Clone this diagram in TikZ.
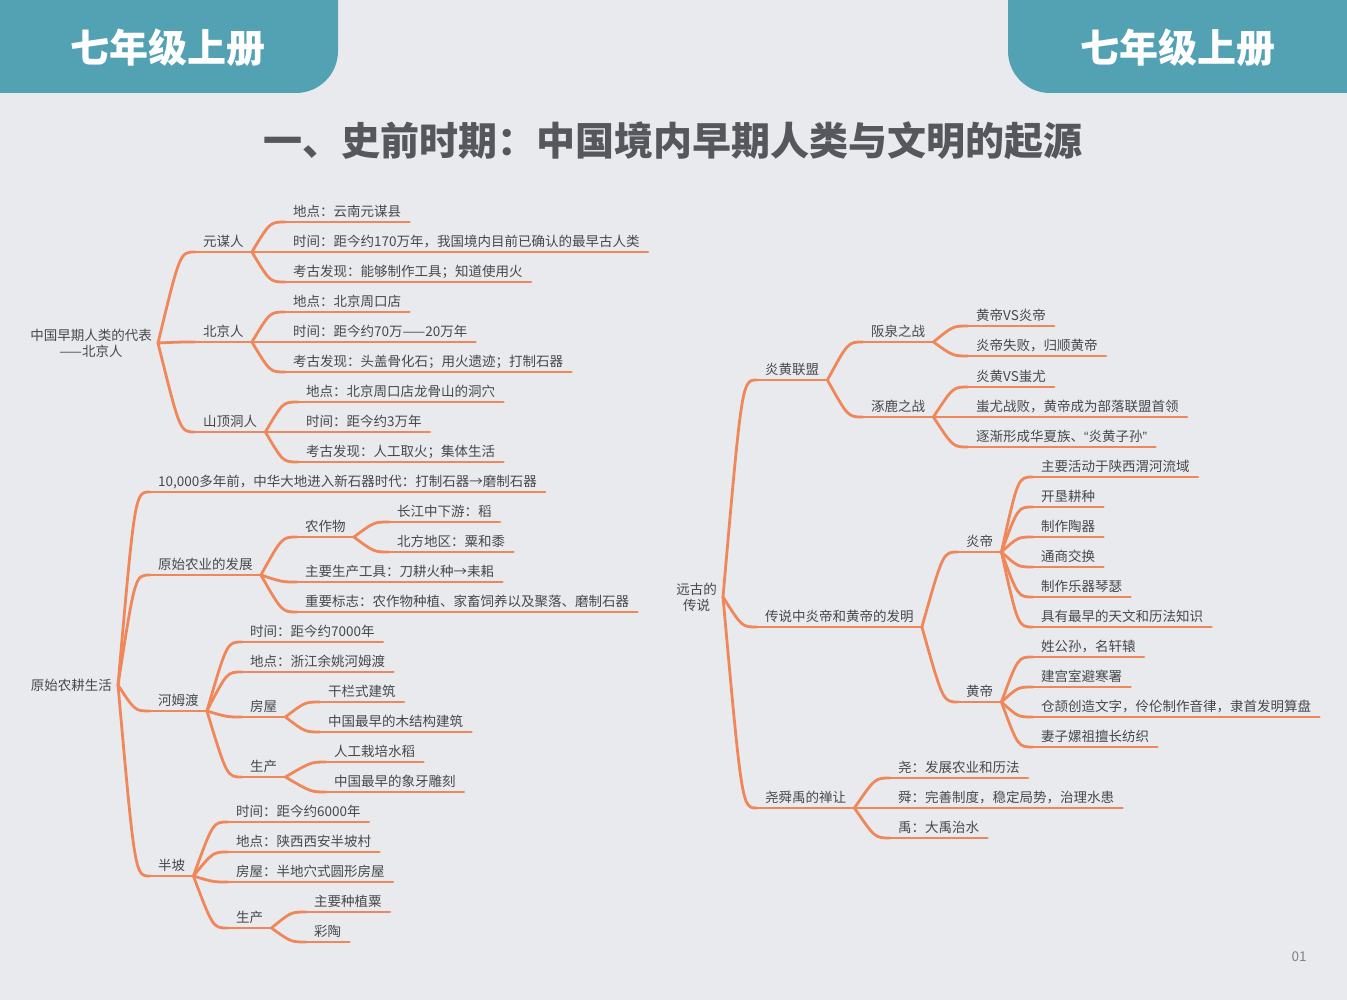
\documentclass[tikz,border=0pt]{standalone}
\usepackage{fontspec}
\newfontfamily\cjk{Noto Sans CJK SC}
\newfontfamily\lat{Liberation Sans}
\definecolor{bg}{RGB}{233,234,238}
\definecolor{tab}{RGB}{82,162,180}
\definecolor{br}{RGB}{240,135,90}
\definecolor{ink}{RGB}{70,72,76}
\definecolor{head}{RGB}{85,87,92}

\begin{document}
\begin{tikzpicture}[x=1pt,y=-1pt]
    \tikzstyle{every node}=[font=\cjk\fontsize{13.5}{16}\selectfont, text=ink];
    \tikzstyle{root}=[anchor=east, align=center, inner xsep=6pt];
    \tikzstyle{leaf}=[anchor=south west, inner xsep=8pt, inner ysep=3pt, text height=10.5pt, text depth=2pt];
    \tikzstyle{ul}=[draw=br, line width=2.8pt, line cap=round];
    \tikzstyle{twig}=[ul, to path={.. controls ([xshift=-15pt]\tikztotarget) .. (\tikztotarget)}];

    \useasboundingbox (0,0) rectangle (1347,1000);
    \fill[bg] (0,0) rectangle (1347,1000);

    % header
    \fill[tab] (0,0) -- (338,0) -- (338,51) arc[start angle=0, end angle=90, radius=42] -- (0,93) -- cycle;
    \fill[tab] (1347,0) -- (1008,0) -- (1008,51) arc[start angle=180, end angle=90, radius=42] -- (1347,93) -- cycle;
    \node[font=\cjk\bfseries\fontsize{39}{39}\selectfont, text=white] (tl) at (168,48) {七年级上册};
    \node[font=\cjk\bfseries\fontsize{39}{39}\selectfont, text=white] (tr) at (1178,48) {七年级上册};
    \node[font=\cjk\bfseries\fontsize{39}{39}\selectfont, text=head] (title) at (673,141) {一、史前时期：中国境内早期人类与文明的起源};

    % early humans
    \node[root] (a) at (158,343) {中国早期人类的代表\\——北京人};
    \node[leaf] (a1) at (195,252) {元谋人};
    \node[leaf] (a2) at (195,342) {北京人};
    \node[leaf] (a3) at (195,432) {山顶洞人};
    \node[leaf] (a11) at (285,222) {地点：云南元谋县};
    \node[leaf] (a12) at (285,252) {时间：距今约170万年，我国境内目前已确认的最早古人类};
    \node[leaf] (a13) at (285,282) {考古发现：能够制作工具；知道使用火};
    \node[leaf] (a21) at (285,312) {地点：北京周口店};
    \node[leaf] (a22) at (285,342) {时间：距今约70万——20万年};
    \node[leaf] (a23) at (285,372) {考古发现：头盖骨化石；用火遗迹；打制石器};
    \node[leaf] (a31) at (298,402) {地点：北京周口店龙骨山的洞穴};
    \node[leaf] (a32) at (298,432) {时间：距今约3万年};
    \node[leaf] (a33) at (298,462) {考古发现：人工取火；集体生活};

    % farming
    \node[root] (b) at (118,685) {原始农耕生活};
    \node[leaf] (b1) at (150,492) {10,000多年前，中华大地进入新石器时代：打制石器→磨制石器};
    \node[leaf] (b2) at (150,575) {原始农业的发展};
    \node[leaf] (b3) at (150,711) {河姆渡};
    \node[leaf] (b4) at (150,876) {半坡};
    \node[leaf] (b21) at (297,537) {农作物};
    \node[leaf] (b211) at (389,522) {长江中下游：稻};
    \node[leaf] (b212) at (389,552) {北方地区：粟和黍};
    \node[leaf] (b22) at (297,582) {主要生产工具：刀耕火种→耒耜};
    \node[leaf] (b23) at (297,612) {重要标志：农作物种植、家畜饲养以及聚落、磨制石器};
    \node[leaf] (b31) at (242,642) {时间：距今约7000年};
    \node[leaf] (b32) at (242,672) {地点：浙江余姚河姆渡};
    \node[leaf] (b33) at (242,717) {房屋};
    \node[leaf] (b331) at (320,702) {干栏式建筑};
    \node[leaf] (b332) at (320,732) {中国最早的木结构建筑};
    \node[leaf] (b34) at (242,777) {生产};
    \node[leaf] (b341) at (326,762) {人工栽培水稻};
    \node[leaf] (b342) at (326,792) {中国最早的象牙雕刻};
    \node[leaf] (b41) at (228,822) {时间：距今约6000年};
    \node[leaf] (b42) at (228,852) {地点：陕西西安半坡村};
    \node[leaf] (b43) at (228,882) {房屋：半地穴式圆形房屋};
    \node[leaf] (b44) at (228,928) {生产};
    \node[leaf] (b441) at (306,912) {主要种植粟};
    \node[leaf] (b442) at (306,942) {彩陶};

    % legends
    \node[root] (c) at (723,597) {远古的\\传说};
    \node[leaf] (c1) at (757,380) {炎黄联盟};
    \node[leaf] (c2) at (757,627) {传说中炎帝和黄帝的发明};
    \node[leaf] (c3) at (757,808) {尧舜禹的禅让};
    \node[leaf] (c11) at (863,342) {阪泉之战};
    \node[leaf] (c12) at (863,417) {涿鹿之战};
    \node[leaf] (c111) at (968,326) {黄帝VS炎帝};
    \node[leaf] (c112) at (968,356) {炎帝失败，归顺黄帝};
    \node[leaf] (c121) at (968,387) {炎黄VS蚩尤};
    \node[leaf] (c122) at (968,417) {蚩尤战败，黄帝成为部落联盟首领};
    \node[leaf] (c123) at (968,447) {逐渐形成华夏族、{\lat “}炎黄子孙{\lat ”}};
    \node[leaf] (c21) at (958,552) {炎帝};
    \node[leaf] (c22) at (958,702) {黄帝};
    \node[leaf] (c211) at (1033,477) {主要活动于陕西渭河流域};
    \node[leaf] (c212) at (1033,507) {开垦耕种};
    \node[leaf] (c213) at (1033,537) {制作陶器};
    \node[leaf] (c214) at (1033,567) {通商交换};
    \node[leaf] (c215) at (1033,597) {制作乐器琴瑟};
    \node[leaf] (c216) at (1033,627) {具有最早的天文和历法知识};
    \node[leaf] (c221) at (1033,657) {姓公孙，名轩辕};
    \node[leaf] (c222) at (1033,687) {建宫室避寒署};
    \node[leaf] (c223) at (1033,717) {仓颉创造文字，伶伦制作音律，隶首发明算盘};
    \node[leaf] (c224) at (1033,747) {妻子嫘祖擅长纺织};
    \node[leaf] (c31) at (890,778) {尧：发展农业和历法};
    \node[leaf] (c32) at (890,808) {舜：完善制度，稳定局势，治理水患};
    \node[leaf] (c33) at (890,838) {禹：大禹治水};

    \node[text=gray] (pg) at (1299,957) {01};

    \foreach \p/\c in {a/a1,a/a2,a/a3,b/b1,b/b2,b/b3,b/b4,c/c1,c/c2,c/c3}
        \draw[twig] (\p.east) to (\c.south west);
    \foreach \p/\c in {a1/a11,a1/a12,a1/a13,a2/a21,a2/a22,a2/a23,a3/a31,a3/a32,a3/a33,
                       b2/b21,b21/b211,b21/b212,b2/b22,b2/b23,b3/b31,b3/b32,b3/b33,b33/b331,b33/b332,
                       b3/b34,b34/b341,b34/b342,b4/b41,b4/b42,b4/b43,b4/b44,b44/b441,b44/b442,
                       c1/c11,c1/c12,c11/c111,c11/c112,c12/c121,c12/c122,c12/c123,c2/c21,c2/c22,
                       c21/c211,c21/c212,c21/c213,c21/c214,c21/c215,c21/c216,
                       c22/c221,c22/c222,c22/c223,c22/c224,c3/c31,c3/c32,c3/c33}
        \draw[twig] (\p.south east) to (\c.south west);
    \foreach \n in {a1,a2,a3,a11,a12,a13,a21,a22,a23,a31,a32,a33,
                    b1,b2,b3,b4,b21,b211,b212,b22,b23,b31,b32,b33,b331,b332,b34,b341,b342,
                    b41,b42,b43,b44,b441,b442,c1,c2,c3,c11,c12,c111,c112,c121,c122,c123,
                    c21,c22,c211,c212,c213,c214,c215,c216,c221,c222,c223,c224,c31,c32,c33}
        \draw[ul] (\n.south west) -- (\n.south east);
\end{tikzpicture}
\end{document}
